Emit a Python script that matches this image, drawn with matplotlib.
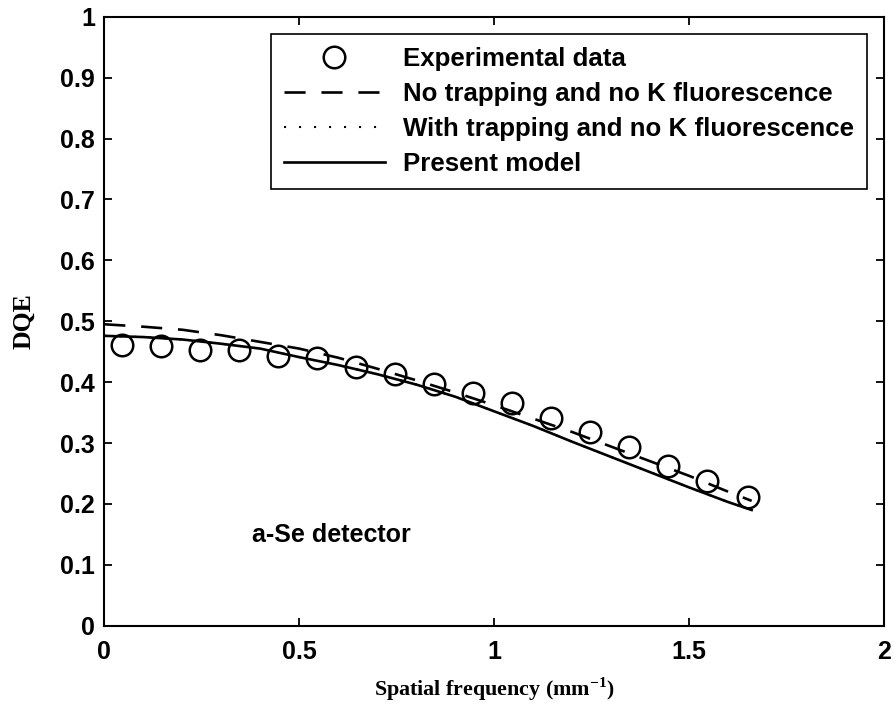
import matplotlib
matplotlib.use('Agg')
import matplotlib.pyplot as plt

# Measured DQE of the a-Se detector
freq_exp = [0.045, 0.145, 0.245, 0.345, 0.445, 0.545, 0.645, 0.745, 0.845,
            0.945, 1.045, 1.145, 1.245, 1.345, 1.445, 1.545, 1.65]
dqe_exp = [0.461, 0.459, 0.452, 0.452, 0.443, 0.439, 0.425, 0.414, 0.397,
           0.382, 0.366, 0.341, 0.318, 0.294, 0.263, 0.237, 0.212]

# Model curves
freq_model = [0.0, 0.1, 0.2, 0.3, 0.4, 0.5, 0.6, 0.7, 0.8, 0.9,
              1.0, 1.1, 1.2, 1.3, 1.4, 1.5, 1.6, 1.66]
dqe_no_trap = [0.495, 0.491, 0.486, 0.477, 0.466, 0.455, 0.440, 0.422, 0.403, 0.383,
               0.362, 0.340, 0.318, 0.294, 0.270, 0.246, 0.220, 0.205]
dqe_trap = [0.476, 0.474, 0.470, 0.463, 0.455, 0.441, 0.428, 0.413, 0.396, 0.376,
            0.352, 0.328, 0.302, 0.277, 0.252, 0.227, 0.203, 0.190]
dqe_present = [0.476, 0.474, 0.470, 0.463, 0.455, 0.441, 0.428, 0.413, 0.396, 0.376,
               0.352, 0.328, 0.302, 0.277, 0.252, 0.227, 0.203, 0.190]

x_ticks = [0, 0.5, 1, 1.5, 2]
x_tick_labels = ['0', '0.5', '1', '1.5', '2']
y_ticks = [0, 0.1, 0.2, 0.3, 0.4, 0.5, 0.6, 0.7, 0.8, 0.9, 1]
y_tick_labels = ['0', '0.1', '0.2', '0.3', '0.4', '0.5', '0.6', '0.7', '0.8', '0.9', '1']


def main():
    sans = 'Liberation Sans'
    serif = 'Liberation Serif'

    # superscript in the axis label should use the same serif face
    plt.rcParams['mathtext.fontset'] = 'custom'
    plt.rcParams['mathtext.rm'] = 'Liberation Serif:bold'
    plt.rcParams['mathtext.bf'] = 'Liberation Serif:bold'

    fig = plt.figure(figsize=(8.95, 7.12), dpi=100)
    ax = fig.add_axes([0.1165, 0.1212, 0.8715, 0.8553])

    ax.plot(freq_exp, dqe_exp, linestyle='none', marker='o', markersize=15.5,
            markerfacecolor='none', markeredgecolor='black', markeredgewidth=1.8,
            label='Experimental data')
    ax.plot(freq_model, dqe_no_trap, color='black', linewidth=1.9,
            linestyle=(0, (8, 6)), label='No trapping and no K fluorescence')
    ax.plot(freq_model, dqe_trap, color='black', linewidth=1.5,
            linestyle=(0, (1, 6.2)), label='With trapping and no K fluorescence')
    ax.plot(freq_model, dqe_present, color='black', linewidth=1.9,
            label='Present model')

    ax.set_xlim(0, 2)
    ax.set_ylim(0, 1)
    ax.set_xticks(x_ticks)
    ax.set_xticklabels(x_tick_labels)
    ax.set_yticks(y_ticks)
    ax.set_yticklabels(y_tick_labels)

    # MATLAB style box: ticks pointing in on all four sides
    ax.tick_params(direction='in', length=6, width=1.3, top=True, right=True)
    ax.tick_params(axis='x', pad=10.5)
    ax.tick_params(axis='y', pad=6.5)
    for lbl in ax.get_xticklabels() + ax.get_yticklabels():
        lbl.set_fontfamily(sans)
        lbl.set_fontweight('bold')
        lbl.set_fontsize(18)
    for spine in ax.spines.values():
        spine.set_linewidth(1.5)

    ax.set_xlabel('Spatial frequency (mm$^{-1}$)', fontfamily=serif,
                  fontweight='bold', fontsize=15.8)
    ax.xaxis.set_label_coords(0.5, -0.081)
    ax.set_ylabel('DQE', fontfamily=serif, fontweight='bold', fontsize=18.5)
    ax.yaxis.set_label_coords(-0.089, 0.5)

    ax.text(0.378, 0.137, 'a-Se detector', fontfamily=sans, fontweight='bold',
            fontsize=18, va='baseline', ha='left')

    leg = ax.legend(loc='upper right', numpoints=1, handlelength=3.9,
                    handletextpad=0.7, labelspacing=0.42, borderpad=0.5,
                    borderaxespad=0.68, fancybox=False, framealpha=1,
                    prop={'family': sans, 'weight': 'bold', 'size': 18.6})
    leg.get_frame().set_edgecolor('black')
    leg.get_frame().set_linewidth(1.2)

    fig.savefig('out.png', dpi=100)
    plt.close(fig)


if __name__ == "__main__":
    main()
